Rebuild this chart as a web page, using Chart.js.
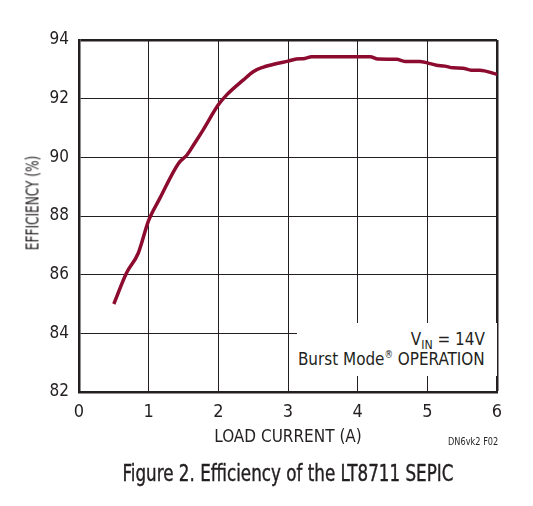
<!DOCTYPE html>
<html>
<head>
<meta charset="utf-8">
<script src="https://cdn.jsdelivr.net/npm/chart.js@4.4.0/dist/chart.umd.min.js"></script>
<style>
  html, body { margin: 0; padding: 0; background: #fff; }
  #wrap { position: relative; width: 533px; height: 506px; }
  .txt { position: absolute; font-family: 'Liberation Sans Narrow', 'DejaVu Sans Condensed', sans-serif; color: #231f20; white-space: nowrap; }
  #ytitle { left: 32px; top: 203px; font-size: 18px; transform: translate(-50%, -50%) rotate(-90deg) scaleX(0.75); }
  #note { left: 297px; top: 323px; width: 200px; height: 53px; background: #fff; }
  #note div { position: absolute; right: 12px; font-size: 18px; transform: scaleX(0.94); transform-origin: right center; }
  #note sub { font-size: 13px; vertical-align: -4px; line-height: 0; }
  #note sup { font-size: 10px; vertical-align: 7px; line-height: 0; }
  #code { left: 448px; top: 435px; font-size: 11px; transform: scaleX(0.83); transform-origin: left center; }
  #caption { left: 0; width: 576px; top: 460px; text-align: center; font-size: 23px; -webkit-text-stroke: 0.4px #231f20; transform: scaleX(0.81); }
</style>
</head>
<body>
<div id="wrap">
  <canvas id="effChart" width="533" height="506"></canvas>
  <div class="txt" id="ytitle">EFFICIENCY (%)</div>
  <div class="txt" id="note">
    <div style="top:5px">V<sub>IN</sub> = 14V</div>
    <div style="top:25px">Burst Mode<sup>®</sup> OPERATION</div>
  </div>
  <div class="txt" id="code">DN6vk2 F02</div>
  <div class="txt" id="caption">Figure 2. Efficiency of the LT8711 SEPIC</div>
</div>
<script>
// Load current (A) and efficiency (%)
const loadCurrent = [0.5, 0.68, 0.85, 1.0, 1.16, 1.43, 1.55, 1.66, 1.78, 2.0, 2.12, 2.36, 2.5, 2.64, 2.84,
    3.0, 3.12, 3.24, 3.34, 4.18, 4.29, 4.56, 4.68, 4.89, 5.0, 5.13, 5.25, 5.37, 5.51, 5.63, 5.75, 6.0];
const efficiency = [85.0, 86.05, 86.73, 87.85, 88.6, 89.8, 90.08, 90.48, 90.93, 91.79, 92.13, 92.64, 92.92, 93.07, 93.2,
    93.28, 93.35, 93.37, 93.43, 93.43, 93.35, 93.34, 93.27, 93.27, 93.22, 93.14, 93.11, 93.05, 93.04, 92.97, 92.97, 92.83];

const xTicks = [0, 1, 2, 3, 4, 5, 6];
const yTicks = [82, 84, 86, 88, 90, 92, 94];

const fontFamily = "'Liberation Sans Narrow', 'DejaVu Sans Condensed', sans-serif";
const inkColor = '#231f20';
const curveColor = '#8c0b2e';

const points = loadCurrent.map((x, i) => ({ x: x, y: efficiency[i] }));

new Chart(document.getElementById('effChart'), {
    type: 'line',
    data: {
        datasets: [{
            data: points,
            borderColor: curveColor,
            borderWidth: 3.5,
            pointRadius: 0,
            fill: false,
            cubicInterpolationMode: 'monotone'
        }]
    },
    options: {
        responsive: false,
        animation: false,
        layout: { padding: { top: 40, right: 36, left: 0, bottom: 0 } },
        plugins: { legend: { display: false }, tooltip: { enabled: false } },
        scales: {
            x: {
                type: 'linear',
                min: xTicks[0],
                max: xTicks[xTicks.length - 1],
                afterBuildTicks: s => { s.ticks = xTicks.map(v => ({ value: v })); },
                afterFit: s => { s.height = 114; },
                grid: {
                    color: inkColor,
                    lineWidth: c => (c.tick && c.tick.value === 6) ? 2.5 : 1,
                    drawTicks: false
                },
                border: { color: inkColor, width: 2.5 },
                ticks: { color: inkColor, padding: 10, font: { family: fontFamily, size: 18 } },
                title: {
                    display: true,
                    text: 'LOAD CURRENT (A)',
                    color: inkColor,
                    font: { family: fontFamily, size: 17 },
                    padding: { top: 0, bottom: 58 }
                }
            },
            y: {
                type: 'linear',
                min: yTicks[0],
                max: yTicks[yTicks.length - 1],
                afterBuildTicks: s => { s.ticks = yTicks.map(v => ({ value: v })); },
                afterFit: s => { s.width = 79; },
                grid: {
                    color: inkColor,
                    lineWidth: c => (c.tick && c.tick.value === 94) ? 2.5 : 1,
                    drawTicks: false
                },
                border: { color: inkColor, width: 2.5 },
                ticks: { color: inkColor, padding: 10, font: { family: fontFamily, size: 17 } }
            }
        }
    }
});
</script>
</body>
</html>
